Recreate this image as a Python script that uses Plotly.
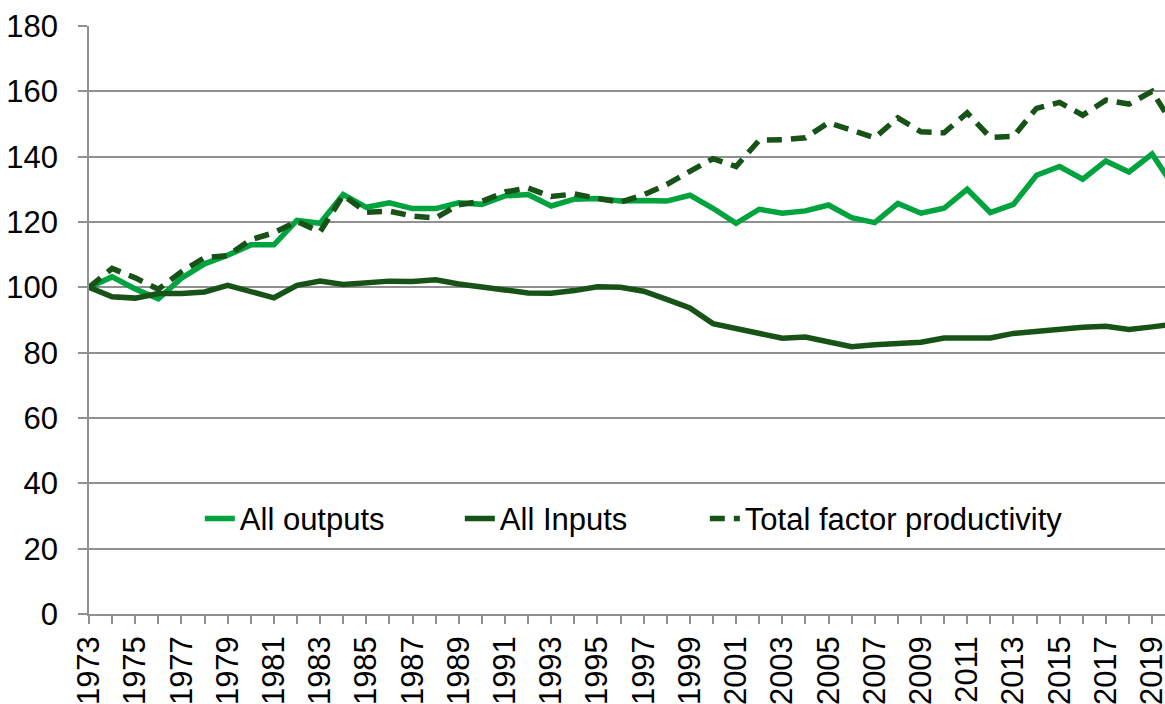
import plotly.graph_objects as go

years = list(range(1973, 2021))

all_outputs = [100, 103.2, 99.5, 96.5, 102.8, 107.2, 109.8, 113.0, 113.0, 120.5,
               119.6, 128.4, 124.5, 125.9, 124.1, 124.1, 125.9, 125.4, 128.0, 128.4,
               124.9, 127.0, 127.2, 126.4, 126.6, 126.4, 128.2, 124.2, 119.6, 123.9,
               122.7, 123.4, 125.2, 121.3, 119.8, 125.7, 122.7, 124.2, 130.0, 122.9,
               125.4, 134.3, 137.0, 133.1, 138.7, 135.3, 140.8, 130.2]

all_inputs = [100, 97.1, 96.7, 98.1, 98.1, 98.6, 100.6, 98.8, 96.8, 100.6,
              101.9, 100.9, 101.5, 101.9, 101.8, 102.3, 101.0, 99.9, 99.2, 98.3,
              98.2, 99.0, 100.2, 100.0, 98.8, 96.3, 93.7, 88.9, 87.3, 85.6,
              84.4, 84.8, 83.2, 81.8, 82.4, 82.7, 83.2, 84.5, 84.4, 84.5,
              85.9, 86.6, 87.5, 87.8, 88.1, 87.1, 87.9, 88.8]

tfp = [100, 105.8, 102.9, 99.4, 104.8, 109.1, 109.7, 114.6, 116.7, 120.2,
       117.0, 128.2, 123.0, 123.3, 121.8, 121.2, 125.3, 126.3, 129.2, 130.4,
       127.8, 128.6, 127.2, 126.1, 128.3, 131.5, 135.5, 139.4, 137.0, 145.0,
       145.2, 145.8, 150.4, 148.2, 145.8, 151.9, 147.6, 147.3, 153.4, 145.9,
       146.2, 154.8, 156.6, 152.7, 157.3, 156.1, 160.0, 148.8]

tick_years = list(range(1973, 2021))
tick_labels = [str(y) if (y - 1973) % 2 == 0 else "" for y in tick_years]
y_ticks = [0, 20, 40, 60, 80, 100, 120, 140, 160, 180]

BRIGHT = "#00a33d"
DARK = "#175217"
GRID = "#909090"
FONT = "Liberation Sans, Arial, sans-serif"

fig = go.Figure()
fig.add_trace(go.Scatter(x=years, y=all_outputs, mode="lines", name="All outputs",
                         line=dict(color=BRIGHT, width=5.5), legendwidth=215))
fig.add_trace(go.Scatter(x=years, y=all_inputs, mode="lines", name="All Inputs",
                         line=dict(color=DARK, width=5.5), legendwidth=200))
fig.add_trace(go.Scatter(x=years, y=tfp, mode="lines", name="Total factor productivity",
                         line=dict(color=DARK, width=5.5, dash="15px,9px")))

fig.update_layout(
    width=1165, height=704,
    margin=dict(l=89, r=0, t=26, b=90, autoexpand=False),
    paper_bgcolor="white", plot_bgcolor="white",
    font=dict(family=FONT, size=31, color="black"),
    showlegend=True,
    legend=dict(orientation="h", x=0.103, xanchor="left", y=0.162, yanchor="middle",
                bgcolor="rgba(0,0,0,0)", font=dict(size=31), itemwidth=30),
)
fig.update_xaxes(
    range=[1973, 2019.56], automargin=False, ticklabeloverflow="allow",
    tickmode="array", tickvals=tick_years, ticktext=tick_labels,
    tickangle=-90, ticks="outside", ticklen=8, tickwidth=1.5, tickcolor=GRID,
    showline=True, linecolor=GRID, linewidth=1.5,
    showgrid=False, zeroline=False,
    tickfont=dict(size=31),
)
fig.update_yaxes(
    range=[0, 180], automargin=False, ticklabeloverflow="allow",
    tickmode="array", tickvals=y_ticks,
    ticks="outside", ticklen=9, tickwidth=1.5, tickcolor=GRID,
    showline=True, linecolor=GRID, linewidth=1.5,
    showgrid=True, gridcolor=GRID, gridwidth=1.5,
    zeroline=False, ticklabelstandoff=14,
    tickfont=dict(size=31),
)

fig.write_html("out.html", config={"displayModeBar": False},
               post_script="document.body.style.margin='0';")
